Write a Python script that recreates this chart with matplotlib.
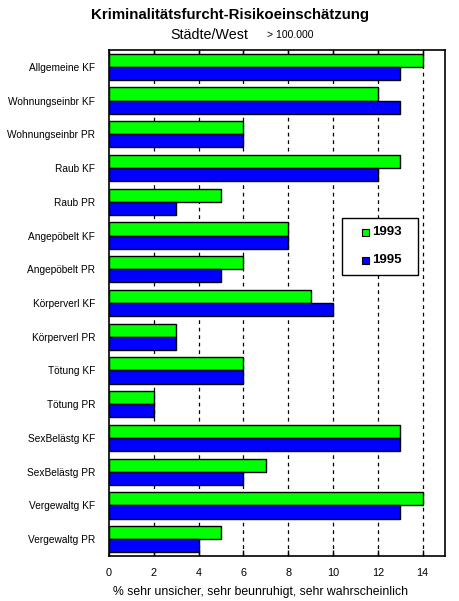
import numpy as np
import matplotlib
matplotlib.use('Agg')
import matplotlib.pyplot as plt
from matplotlib.patches import Rectangle

plt.rcParams['font.family'] = ['Liberation Sans', 'DejaVu Sans']

# Categories top to bottom
categories = ['Allgemeine KF', 'Wohnungseinbr KF', 'Wohnungseinbr PR', 'Raub KF', 'Raub PR',
              'Angepöbelt KF', 'Angepöbelt PR', 'Körperverl KF', 'Körperverl PR',
              'Tötung KF', 'Tötung PR', 'SexBelästg KF', 'SexBelästg PR',
              'Vergewaltg KF', 'Vergewaltg PR']
vals_1993 = [14, 12, 6, 13, 5, 8, 6, 9, 3, 6, 2, 13, 7, 14, 5]
vals_1995 = [13, 13, 6, 12, 3, 8, 5, 10, 3, 6, 2, 13, 6, 13, 4]
xticks = [0, 2, 4, 6, 8, 10, 12, 14]
years = ['1993', '1995']
colors = ['#00ff00', '#0000ff']

W, H = 460, 601
fig = plt.figure(figsize=(4.6, 6.01), dpi=100)
ax = fig.add_axes([109/W, 45/H, 336/W, 506/H])

n = len(categories)
y = np.arange(n)
h = 0.39
ax.barh(y - h/2, vals_1993, height=h, color=colors[0], edgecolor='black', linewidth=1, zorder=3)
ax.barh(y + h/2, vals_1995, height=h, color=colors[1], edgecolor='black', linewidth=1, zorder=3)

ax.set_ylim(n - 0.5, -0.5)
ax.set_xlim(0, 15)
ax.set_yticks(y)
ax.set_yticklabels(categories, fontsize=7.3)
ax.set_xticks(xticks)
ax.set_xticklabels([str(t) for t in xticks], fontsize=7.8)
ax.tick_params(axis='y', length=0, pad=10)
ax.tick_params(axis='x', direction='in', length=4, top=True, pad=9, width=1)
for t in xticks[1:]:
    ax.axvline(t, color='black', linestyle=(0, (3, 3)), linewidth=0.9, zorder=1)
for s in ax.spines.values():
    s.set_linewidth(1.2)

ax.set_xlabel('% sehr unsicher, sehr beunruhigt, sehr wahrscheinlich', fontsize=8.8)
ax.xaxis.set_label_coords((261 - 109) / 336, -(586 - 556) / 506)

# legend box drawn by hand (pixel layout of the original)
def px(x, yy):
    return x / W, 1 - yy / H

bx, by = px(342, 275)
fig.add_artist(Rectangle((bx, by), 76/W, 57/H, transform=fig.transFigure,
                         facecolor='white', edgecolor='black', linewidth=1, zorder=5))
for i, (yr, c) in enumerate(zip(years, colors)):
    cy = 232 + i * 28
    sx, sy = px(362, cy + 3.5)
    fig.add_artist(Rectangle((sx, sy), 7/W, 7/H, transform=fig.transFigure,
                             facecolor=c, edgecolor='black', linewidth=0.8, zorder=6))
    tx, ty = px(372, cy)
    fig.text(tx, ty, yr, ha='left', va='center', fontsize=9.5, fontweight='bold', zorder=6)

fig.text(0.5, 1 - 15/H, 'Kriminalitätsfurcht-Risikoeinschätzung', ha='center', va='center',
         fontsize=10.8, fontweight='bold')
fig.text(248/W, 1 - 35/H, 'Städte/West', ha='right', va='center', fontsize=10.3)
fig.text(267/W, 1 - 35/H, '> 100.000', ha='left', va='center', fontsize=7.5)

fig.savefig('out.png', dpi=100)
